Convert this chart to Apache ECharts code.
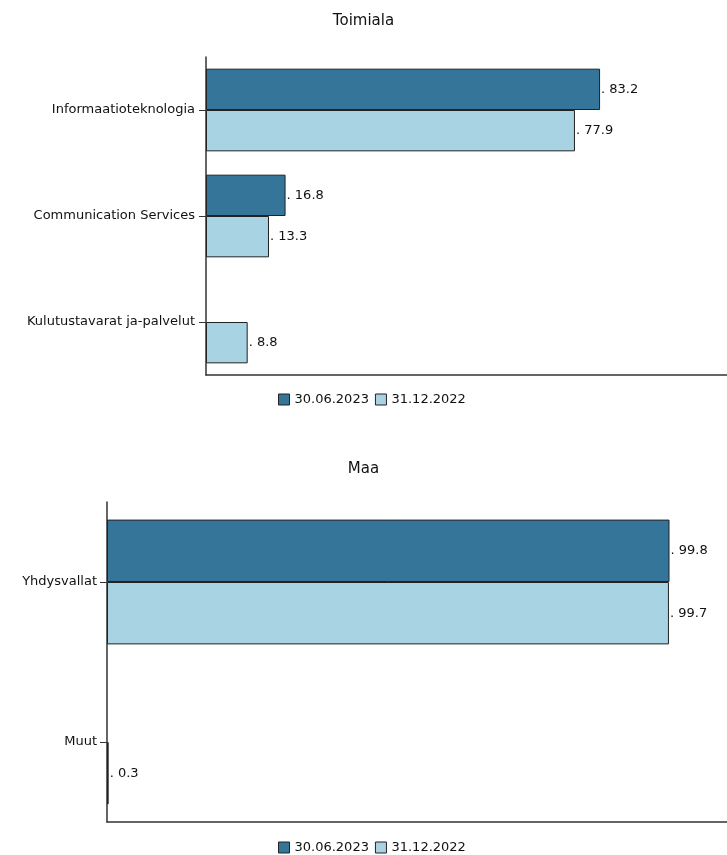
<!DOCTYPE html>
<html>
<head>
<meta charset="utf-8">
<script src="https://cdn.jsdelivr.net/npm/echarts@6/dist/echarts.min.js"></script>
<style>
  html, body { margin: 0; padding: 0; background: #fff; }
  #chart { width: 727px; height: 855px; }
</style>
</head>
<body>
<div id="chart"></div>
<script>
// data
var seriesNames = ['30.06.2023', '31.12.2022']
var industryCategories = ['Informaatioteknologia', 'Communication Services', 'Kulutustavarat ja-palvelut']
var industryJun2023 = [83.2, 16.8, null]
var industryDec2022 = [77.9, 13.3, 8.8]
var countryCategories = ['Yhdysvallat', 'Muut']
var countryJun2023 = [99.8, null]
var countryDec2022 = [99.7, 0.3]

var colors = ['#35759a', '#a8d3e2']
var fontFamily = 'DejaVu Sans'

var chart = echarts.init(document.getElementById('chart'))

function barSeries(name, data, axisIndex, color) {
  return {
    name: name,
    type: 'bar',
    xAxisIndex: axisIndex,
    yAxisIndex: axisIndex,
    data: data,
    barGap: 0,
    barCategoryGap: '22%',
    itemStyle: {
      color: color,
      borderColor: '#222',
      borderWidth: 1
    },
    label: {
      show: true,
      position: 'right',
      distance: 1,
      color: '#111',
      fontSize: 13,
      fontFamily: fontFamily,
      formatter: function (p) {
        return '. ' + p.value
      }
    },
    emphasis: { disabled: true },
    animation: false
  }
}

function valueAxis(index) {
  return {
    type: 'value',
    gridIndex: index,
    min: 0,
    max: 110,
    axisLine: { show: true, lineStyle: { color: '#333', width: 1.5 } },
    axisTick: { show: false },
    axisLabel: { show: false },
    splitLine: { show: false }
  }
}

function categoryAxis(index, data, margin) {
  return {
    type: 'category',
    gridIndex: index,
    data: data,
    inverse: true,
    axisLine: { show: true, lineStyle: { color: '#333', width: 1.5 } },
    axisTick: { show: true, alignWithLabel: true, length: 7, lineStyle: { color: '#333' } },
    axisLabel: { color: '#111', fontSize: 13, fontFamily: fontFamily, margin: margin }
  }
}

var legendBase = {
  data: seriesNames,
  icon: 'rect',
  itemWidth: 11,
  itemHeight: 11,
  itemGap: 6,
  selectedMode: false,
  itemStyle: { borderColor: '#222', borderWidth: 1 },
  textStyle: { color: '#111', fontSize: 13, fontFamily: fontFamily, padding: [0, 0, 0, 0] }
}

chart.setOption({
  color: colors,
  animation: false,
  title: [
    { text: 'Toimiala', left: 'center', top: 9, textStyle: { fontSize: 15, fontWeight: 'normal', color: '#111', fontFamily: fontFamily } },
    { text: 'Maa', left: 'center', top: 457, textStyle: { fontSize: 15, fontWeight: 'normal', color: '#111', fontFamily: fontFamily } }
  ],
  legend: [
    Object.assign({}, legendBase, { left: 273, top: 388 }),
    Object.assign({}, legendBase, { left: 273, top: 836 })
  ],
  grid: [
    { left: 206, top: 57, right: 0, height: 318 },
    { left: 107, top: 502, right: 0, height: 320 }
  ],
  xAxis: [valueAxis(0), valueAxis(1)],
  yAxis: [categoryAxis(0, industryCategories, 11), categoryAxis(1, countryCategories, 10)],
  series: [
    barSeries(seriesNames[0], industryJun2023, 0, colors[0]),
    barSeries(seriesNames[1], industryDec2022, 0, colors[1]),
    barSeries(seriesNames[0], countryJun2023, 1, colors[0]),
    barSeries(seriesNames[1], countryDec2022, 1, colors[1])
  ]
})
</script>
</body>
</html>
